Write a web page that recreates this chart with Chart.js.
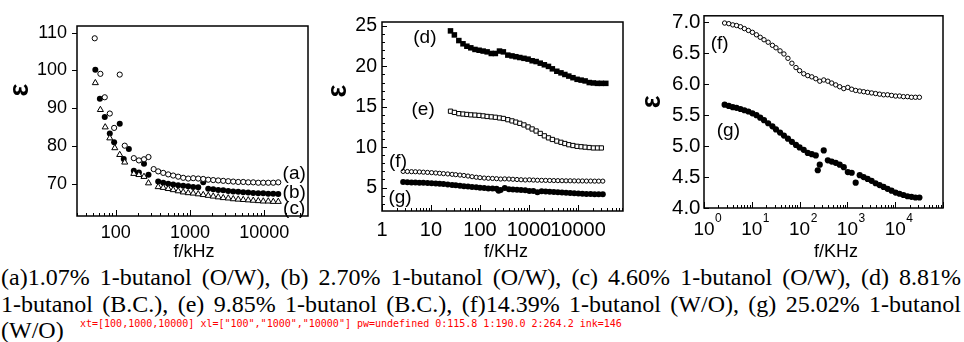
<!DOCTYPE html>
<html>
<head>
<meta charset="utf-8">
<script src="https://cdn.jsdelivr.net/npm/chart.js@4.4.1/dist/chart.umd.min.js"></script>
<style>
  body { margin: 0; width: 964px; height: 342px; background: #fff; position: relative; overflow: hidden; }
  canvas { position: absolute; top: 0; }
  .cap { position: absolute; left: 1px; width: 960px; font: 24px "Liberation Serif", "Times New Roman", serif; line-height: 26.5px; color: #000; }
  .just { text-align: justify; text-align-last: justify; }
  #dbg { position: absolute; left: 80px; top: 318px; font: 10px monospace; color: red; }
</style>
</head>
<body>
<canvas id="c1" width="320" height="262" style="left:0"></canvas>
<canvas id="c2" width="320" height="262" style="left:320px"></canvas>
<canvas id="c3" width="324" height="262" style="left:640px"></canvas>
<div class="cap just" style="top:264px">(a)1.07% 1-butanol (O/W), (b) 2.70% 1-butanol (O/W), (c) 4.60% 1-butanol (O/W), (d) 8.81%</div>
<div class="cap just" style="top:290.5px">1-butanol (B.C.), (e) 9.85% 1-butanol (B.C.), (f)14.39% 1-butanol (W/O), (g) 25.02% 1-butanol</div>
<div class="cap" style="top:317px">(W/O)</div>
<div id="dbg"></div>
<script>
const sans = '"Liberation Sans", Arial, sans-serif';
const dbg = [];

// panel 1: O/W samples (a), (b), (c)
const freqA = [52, 62, 71, 83, 95, 113, 132, 175, 205, 240, 276, 324, 373, 436, 509, 594, 694, 811, 947, 1106, 1292, 1509, 1762, 2058, 2404, 2808, 3280, 3831, 4474, 5226, 6104, 7130, 8328, 9727, 11361, 13270, 15500];
const epsA  = [108.5, 99.1, 92.9, 88.6, 84.8, 98.9, 80.1, 76.8, 76.2, 76.5, 77.1, 73.9, 73.3, 72.9, 72.5, 72.2, 71.9, 71.6, 71.4, 71.5, 71.4, 71.3, 71.1, 71.0, 70.9, 70.8, 70.7, 70.6, 70.5, 70.5, 70.4, 70.4, 70.3, 70.3, 70.3, 70.3, 70.4];
const freqB = [53, 61, 71, 83, 95, 113, 128, 150, 175, 205, 240, 276, 373, 436, 509, 594, 694, 811, 947, 1106, 1292, 1509, 1762, 2058, 2404, 2808, 3280, 3831, 4474, 5226, 6104, 7130, 8328, 9727, 11361, 13270, 15500];
const epsB  = [100.2, 92.5, 87.7, 83.3, 81.0, 85.9, 76.6, 79.2, 73.5, 73.0, 75.3, 72.4, 70.6, 70.3, 70.0, 69.8, 69.6, 69.5, 69.4, 69.2, 69.1, 70.4, 68.7, 68.6, 68.4, 68.3, 68.1, 68.0, 67.9, 67.8, 67.7, 67.6, 67.5, 67.5, 67.4, 67.4, 67.3];
const freqC = [53, 62, 72, 83, 97, 113, 132, 175, 205, 240, 276, 373, 436, 509, 594, 694, 811, 947, 1106, 1292, 1509, 1762, 2058, 2404, 2808, 3280, 3831, 4474, 5226, 6104, 7130, 8328, 9727, 11361, 13270, 15500];
const epsC  = [96.7, 89.6, 85.0, 82.1, 79.5, 77.7, 75.7, 72.7, 72.4, 71.9, 70.2, 69.2, 69.0, 68.7, 68.4, 68.1, 67.8, 67.6, 67.5, 67.3, 67.1, 66.9, 66.7, 66.5, 66.3, 66.2, 66.0, 65.9, 65.8, 65.7, 65.6, 65.5, 65.4, 65.4, 65.3, 65.3];

// panel 2: B.C. samples (d), (e)
const freqD = [25, 30, 37, 45, 54, 65, 79, 96, 116, 140, 170, 206, 250, 300, 370, 450, 540, 650, 790, 960, 1160, 1400, 1700, 2060, 2500, 3000, 3700, 4500, 5400, 6500, 7900, 9600, 11600, 14000, 17000, 20600, 25000, 30000, 37000];
const epsD  = [24.4, 23.9, 23.2, 22.8, 22.5, 22.3, 22.1, 22.0, 21.9, 21.8, 21.6, 21.6, 21.9, 21.8, 21.4, 21.3, 21.2, 21.1, 21.0, 20.9, 20.7, 20.6, 20.4, 20.2, 20.0, 19.7, 19.4, 19.2, 19.0, 18.8, 18.6, 18.4, 18.3, 18.2, 18.0, 17.95, 17.9, 17.9, 17.9];
const freqE = [25, 30, 37, 45, 54, 65, 79, 96, 116, 140, 170, 206, 250, 300, 370, 450, 540, 650, 790, 960, 1160, 1400, 1700, 2060, 2500, 3000, 3700, 4500, 5400, 6500, 7900, 9600, 11600, 14000, 17000, 20600, 25000, 30000];
const epsE  = [14.45, 14.3, 14.15, 14.1, 14.05, 14.0, 13.97, 13.93, 13.87, 13.8, 13.75, 13.7, 13.62, 13.55, 13.4, 13.25, 13.1, 12.95, 12.75, 12.5, 12.25, 12.0, 11.7, 11.4, 11.15, 10.95, 10.75, 10.6, 10.45, 10.3, 10.2, 10.1, 10.05, 10.0, 9.95, 9.9, 9.9, 9.9];

// panels 2 and 3: W/O samples (f), (g)
const freqF = [2.7, 3.3, 4.0, 4.8, 5.8, 7.0, 8.5, 10.3, 12.5, 15, 18, 22, 27, 32, 39, 47, 57, 69, 84, 100, 122, 148, 180, 218, 264, 320, 390, 470, 570, 690, 840, 1020, 1230, 1490, 1810, 2190, 2650, 3210, 3890, 4720, 5720, 6930, 8400, 10200, 12300, 14900, 18100, 21900, 26500, 32100];
const epsF  = [6.99, 6.98, 6.96, 6.95, 6.93, 6.90, 6.87, 6.84, 6.80, 6.76, 6.72, 6.68, 6.63, 6.59, 6.54, 6.49, 6.42, 6.34, 6.27, 6.22, 6.17, 6.14, 6.12, 6.09, 6.05, 6.07, 6.05, 6.02, 5.99, 5.96, 5.93, 5.95, 5.92, 5.90, 5.89, 5.88, 5.87, 5.86, 5.85, 5.84, 5.83, 5.83, 5.82, 5.81, 5.81, 5.80, 5.80, 5.79, 5.79, 5.79];
const freqG = [2.7, 3.3, 4.0, 4.8, 5.8, 7.0, 8.5, 10.3, 12.5, 15, 18, 22, 27, 32, 39, 47, 57, 69, 84, 100, 122, 148, 180, 218, 240, 264, 320, 390, 470, 570, 690, 840, 1020, 1230, 1490, 1810, 2190, 2650, 3210, 3890, 4720, 5720, 6930, 8400, 10200, 12300, 14900, 18100, 21900, 26500, 32100];
const epsG  = [5.67, 5.65, 5.63, 5.62, 5.60, 5.58, 5.56, 5.53, 5.50, 5.46, 5.42, 5.37, 5.32, 5.27, 5.22, 5.17, 5.12, 5.07, 5.02, 4.98, 4.94, 4.89, 4.87, 4.85, 4.61, 4.70, 4.93, 4.77, 4.75, 4.73, 4.70, 4.66, 4.58, 4.57, 4.41, 4.53, 4.50, 4.47, 4.44, 4.40, 4.37, 4.34, 4.31, 4.28, 4.25, 4.23, 4.21, 4.19, 4.18, 4.17, 4.17];

// ticks
const xTicks1 = [100, 1000, 10000];
const xLabels1 = ['100', '1000', '10000'];
const yTicks1 = [70, 80, 90, 100, 110];
const yLabels1 = ['70', '80', '90', '100', '110'];
const xTicks2 = [1, 10, 100, 1000, 10000];
const xLabels2 = ['1', '10', '100', '1000', '10000'];
const yTicks2 = [5, 10, 15, 20, 25];
const yLabels2 = ['5', '10', '15', '20', '25'];
const xTicks3 = [1, 10, 100, 1000, 10000];
const xPow3 = ['0', '1', '2', '3', '4'];
const yTicks3 = [4.0, 4.5, 5.0, 5.5, 6.0, 6.5, 7.0];
const yLabels3 = ['4.0', '4.5', '5.0', '5.5', '6.0', '6.5', '7.0'];

function pts(xs, ys) { return xs.map((x, i) => ({ x: x, y: ys[i] })); }

function marker(xs, ys, style, r, filled, bw) {
  return {
    data: pts(xs, ys), pointStyle: style, pointRadius: r, pointHoverRadius: r,
    backgroundColor: filled ? '#000' : '#fff', borderColor: '#000',
    borderWidth: bw, showLine: false
  };
}

function logAxis(min, max, ticks, h) {
  return {
    type: 'logarithmic', min: min, max: max,
    grid: { display: false, drawTicks: false }, border: { display: false },
    afterBuildTicks: s => { s.ticks = ticks.map(v => ({ value: v })); },
    afterFit: s => { s.height = h; },
    ticks: { display: false }
  };
}

function linAxis(min, max, ticks, labels, w, pad, size) {
  return {
    type: 'linear', min: min, max: max,
    grid: { display: false, drawTicks: false }, border: { display: false },
    afterBuildTicks: s => { s.ticks = ticks.map(v => ({ value: v })); },
    afterFit: s => { s.width = w; },
    ticks: { padding: pad, color: '#000', font: { family: sans, size: size }, callback: (v, i) => labels[i] }
  };
}

const deco = {
  id: 'deco',
  afterDraw(chart, args, o) {
    const ctx = chart.ctx, a = chart.chartArea, x = chart.scales.x, y = chart.scales.y;
    ctx.save();
    ctx.strokeStyle = '#000';
    ctx.lineWidth = 1.5;
    ctx.strokeRect(a.left, a.top, a.right - a.left, a.bottom - a.top);
    ctx.lineWidth = 1;
    ctx.beginPath();
    const d0 = Math.floor(Math.log10(x.min)), d1 = Math.ceil(Math.log10(x.max));
    for (let d = d0; d <= d1; d++) {
      for (let m = 1; m < 10; m++) {
        const v = m * Math.pow(10, d);
        if (v < x.min || v > x.max) continue;
        const px = Math.round(x.getPixelForValue(v)) + 0.5;
        ctx.moveTo(px, a.bottom);
        ctx.lineTo(px, a.bottom - (m === 1 ? 6 : 3));
      }
    }
    const dir = o.yOut ? -1 : 1;
    y.ticks.forEach(t => {
      const py = Math.round(y.getPixelForValue(t.value)) + 0.5;
      ctx.moveTo(a.left, py);
      ctx.lineTo(a.left + dir * 5, py);
    });
    if (o.yMinor) {
      for (let v = Math.ceil(y.min / o.yMinor) * o.yMinor; v <= y.max; v += o.yMinor) {
        const py = Math.round(y.getPixelForValue(v)) + 0.5;
        ctx.moveTo(a.left, py);
        ctx.lineTo(a.left + dir * 3, py);
      }
    }
    ctx.stroke();

    ctx.fillStyle = '#000';
    ctx.textBaseline = 'alphabetic';
    const xt = o.xTicks, xl = o.xLabels, pw = o.pow;
    if (chart.canvas.id === 'c1') dbg.push('xt=' + JSON.stringify(xt) + ' xl=' + JSON.stringify(xl) + ' pw=' + JSON.stringify(pw));
    xt.forEach((v, i) => {
      const px = x.getPixelForValue(v);
      if (chart.canvas.id === 'c1') dbg.push(i + ':' + px.toFixed(1));
      ctx.font = o.xSize + 'px ' + sans;
      ctx.textAlign = 'center';
      if (pw) {
        const w = ctx.measureText('10').width;
        ctx.fillText('10', px, 235);
        ctx.font = '12px ' + sans;
        ctx.textAlign = 'left';
        ctx.fillText(pw[i], px + w / 2 + 0.5, 222);
      } else {
        ctx.fillText(xl[i], px, o.xBase);
      }
    });

    ctx.textAlign = 'center';
    ctx.textBaseline = 'middle';
    ctx.font = '19px ' + sans;
    o.labels.forEach(l => ctx.fillText(l.t, x.getPixelForValue(l.x), y.getPixelForValue(l.y)));

    ctx.textBaseline = 'alphabetic';
    ctx.font = '18px ' + sans;
    ctx.fillText(o.xTitle, (a.left + a.right) / 2 + o.xDx, 257);

    ctx.save();
    ctx.translate(a.left + o.yDx, (a.top + a.bottom) / 2 + o.yDy);
    ctx.rotate(-Math.PI / 2);
    ctx.textBaseline = 'middle';
    ctx.font = 'bold 27px ' + sans;
    ctx.fillText('\u03b5', 0, 0);
    ctx.restore();
    ctx.restore();
    if (chart.canvas.id === 'c1') {
      const p = ctx.getImageData(172, 222, 38, 18).data;
      let n = 0; for (let k = 3; k < p.length; k += 4) if (p[k] > 128) n++;
      dbg.push('ink=' + n);
      document.getElementById('dbg').textContent = dbg.join(' ');
    }
  }
};

function base(pad, scales, decoOpts) {
  return {
    responsive: false, animation: false,
    layout: { padding: pad },
    plugins: { legend: { display: false }, tooltip: { enabled: false }, deco: decoOpts },
    scales: scales
  };
}

new Chart(document.getElementById('c1'), {
  type: 'scatter',
  data: { datasets: [
    marker(freqC, epsC, 'triangle', 3.5, false, 1),
    marker(freqA, epsA, 'circle', 2.6, false, 1),
    marker(freqB, epsB, 'circle', 3.0, true, 0)
  ] },
  options: base({ top: 26, right: 12, left: 0, bottom: 0 }, {
    x: logAxis(30, 39000, xTicks1, 46),
    y: linAxis(61.5, 111.75, yTicks1, yLabels1, 77, 10, 18)
  }, {
    yOut: true, xTicks: xTicks1, xLabels: xLabels1, xSize: 18, xBase: 238,
    xTitle: 'f/kHz', xDx: 1.5, yDx: -56, yDy: -31,
    labels: [{ t: '(a)', x: 25400, y: 72.8 }, { t: '(b)', x: 25400, y: 67.7 }, { t: '(c)', x: 25400, y: 63.4 }]
  }),
  plugins: [deco]
});

new Chart(document.getElementById('c2'), {
  type: 'scatter',
  data: { datasets: [
    marker(freqD, epsD, 'rect', 3.9, true, 0),
    marker(freqE, epsE, 'rect', 3.0, false, 1),
    marker(freqF, epsF, 'circle', 2.1, false, 1),
    marker(freqG, epsG, 'circle', 3.0, true, 0)
  ] },
  options: base({ top: 22, right: 17, left: 0, bottom: 0 }, {
    x: logAxis(1, 83000, xTicks2, 51),
    y: linAxis(2.09, 25.5, yTicks2, yLabels2, 62, 5, 19.5)
  }, {
    yMinor: 1, xTicks: xTicks2, xLabels: xLabels2, xSize: 20, xBase: 236,
    xTitle: 'f/KHz', xDx: 3.5, yDx: -43.5, yDy: -25.5,
    labels: [{ t: '(d)', x: 7.5, y: 23.6 }, { t: '(e)', x: 6.9, y: 14.6 }, { t: '(f)', x: 2.12, y: 8.16 }, { t: '(g)', x: 2.33, y: 3.7 }]
  }),
  plugins: [deco]
});

new Chart(document.getElementById('c3'), {
  type: 'scatter',
  data: { datasets: [
    marker(freqF, epsF, 'circle', 2.2, false, 1),
    marker(freqG, epsG, 'circle', 3.1, true, 0)
  ] },
  options: base({ top: 14, right: 21, left: 0, bottom: 0 }, {
    x: logAxis(1, 100000, xTicks3, 54),
    y: linAxis(4.0, 7.107, yTicks3, yLabels3, 64, 3.5, 20.5)
  }, {
    xTicks: xTicks3, pow: xPow3, xSize: 19,
    xTitle: 'f/KHz', xDx: 12.5, yDx: -51, yDy: -10,
    labels: [{ t: '(f)', x: 2.12, y: 6.66 }, { t: '(g)', x: 3.24, y: 5.25 }]
  }),
  plugins: [deco]
});
</script>
</body>
</html>
